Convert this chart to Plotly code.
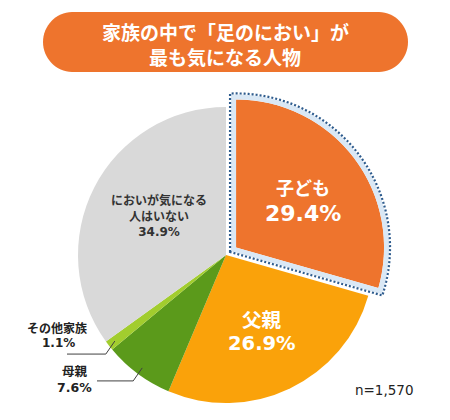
import math
import plotly.graph_objects as go

W, H = 450, 420

# ---- data ----
categories = ["子ども", "父親", "母親", "その他家族", "においが気になる人はいない"]
values = [29.4, 26.9, 7.6, 1.1, 34.9]
value_labels = ["29.4%", "26.9%", "7.6%", "1.1%", "34.9%"]
title_lines = ["家族の中で「足のにおい」が", "最も気になる人物"]
sample_note = "n=1,570"

# ---- styles ----
colors = ["#EE742D", "#FAA20A", "#5B9A1B", "#A2CD2E", "#D9D9D9"]
pulls = [0.085, 0, 0, 0, 0]
CJK = "Noto Sans CJK JP"
LAT = "DejaVu Sans"
MIX = "DejaVu Sans, Noto Sans CJK JP"

CX, CY, R = 226, 255, 148
maxpull = max(pulls)
half = R * (1 + maxpull)
dom_x = [(CX - half) / W, (CX + half) / W]
dom_y = [0, 1 - (2 * CY - H) / H]


def P(x, y):
    return f"{x / W:.5f},{1 - y / H:.5f}"


def pt(cx, cy, rad, ang):
    a = math.radians(ang)
    return (cx + rad * math.sin(a), cy - rad * math.cos(a))


fig = go.Figure()
fig.add_trace(go.Pie(
    labels=categories, values=values, sort=False, direction="clockwise",
    rotation=0, pull=pulls, textinfo="none", hoverinfo="label+percent",
    marker=dict(colors=colors, line=dict(width=0)), showlegend=False,
    domain=dict(x=dom_x, y=dom_y),
))

shapes = []
annotations = []

# title pill
x0, x1, y0, y1, rad = 43, 408, 12, 72, 29
cyt = (y0 + y1) / 2
k = 0.5523 * rad
path = (f"M {P(x0 + rad, y0)} L {P(x1 - rad, y0)} "
        f"C {P(x1 - rad + k, y0)} {P(x1, cyt - k)} {P(x1, cyt)} "
        f"C {P(x1, cyt + k)} {P(x1 - rad + k, y1)} {P(x1 - rad, y1)} "
        f"L {P(x0 + rad, y1)} "
        f"C {P(x0 + rad - k, y1)} {P(x0, cyt + k)} {P(x0, cyt)} "
        f"C {P(x0, cyt - k)} {P(x0 + rad - k, y0)} {P(x0 + rad, y0)} Z")
shapes.append(dict(type="path", xref="paper", yref="paper", path=path,
                   fillcolor="#EE742D", line=dict(width=0), layer="below"))

# highlighted slice outline (computed from the first slice's angles)
total = sum(values)
a0 = 0.0
a1 = 360 * values[0] / total
m = (a0 + a1) / 2
scx, scy = pt(CX, CY, pulls[0] * R, m)


def outline(d, n=80):
    Rr = R + d
    delta = math.degrees(math.asin(d / Rr))
    corner = pt(scx, scy, d / math.sin(math.radians((a1 - a0) / 2)), m + 180)
    pts = [corner] + [pt(scx, scy, Rr, a0 - delta + (a1 - a0 + 2 * delta) * i / n)
                      for i in range(n + 1)]
    return "M " + " L ".join(P(x, y) for x, y in pts) + " Z"


shapes.append(dict(type="path", xref="paper", yref="paper", path=outline(2.5),
                   line=dict(color="#DAE8F5", width=5), layer="above"))
shapes.append(dict(type="path", xref="paper", yref="paper", path=outline(6),
                   line=dict(color="#2E5C8E", width=2.2, dash="2px,2px"),
                   layer="above"))

# leader lines for small slices
cum = 0
mids = []
for v in values:
    mids.append(360 * (cum + v / 2) / total)
    cum += v
for idx, xend in [(3, 67), (2, 97)]:
    ax, ay = pt(CX, CY, 0.95 * R, mids[idx])
    ex, ey = ax - 9, ay + 13
    shapes.append(dict(type="path", xref="paper", yref="paper",
                       path=f"M {P(xend, ey)} L {P(ex, ey)} L {P(ax, ay)}",
                       line=dict(color="#404040", width=1), layer="above"))


def ann(text, x, y, size, color, family, bold=True):
    annotations.append(dict(
        text=f"<b>{text}</b>" if bold else text, x=x / W, y=1 - y / H,
        xref="paper", yref="paper", xanchor="center", yanchor="middle",
        showarrow=False, font=dict(size=size, color=color, family=family)))


# title
ann(title_lines[0], 225, 32, 19, "white", CJK)
ann(title_lines[1], 225, 57, 19, "white", CJK)

# slice labels
ann(categories[0], 303, 187, 18, "white", CJK)
ann(value_labels[0], 303, 213, 22, "white", LAT)
ann(categories[1], 262, 318, 19.5, "white", CJK)
ann(value_labels[1], 262, 343, 19.5, "white", LAT)
ann(categories[4][:8] + "<br>" + categories[4][8:] + "<br>" + value_labels[4],
    159, 216, 12, "#333333", MIX)
ann(categories[3], 57, 327, 12, "#222222", CJK)
ann(value_labels[3], 58, 343, 12, "#222222", LAT)
ann(categories[2], 75, 370, 12.5, "#222222", CJK)
ann(value_labels[2], 74, 387, 12.5, "#222222", LAT)
ann(sample_note, 384, 390, 13.5, "#222222", LAT, bold=False)

fig.update_layout(
    width=W, height=H, margin=dict(l=0, r=0, t=0, b=0),
    paper_bgcolor="white", plot_bgcolor="white",
    shapes=shapes, annotations=annotations, showlegend=False,
)

fig.write_html("out.html")
